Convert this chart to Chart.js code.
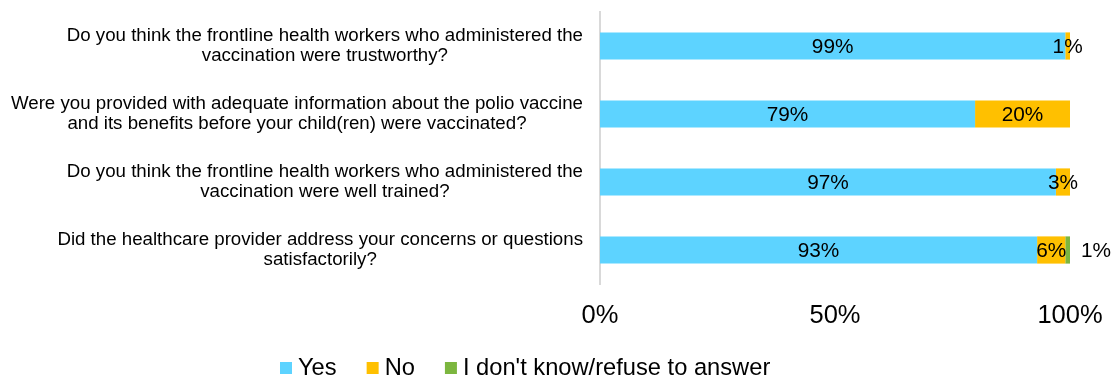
<!DOCTYPE html>
<html>
<head>
<meta charset="utf-8">
<script src="https://cdn.jsdelivr.net/npm/chart.js@4.4.1/dist/chart.umd.min.js"></script>
<style>
  html, body { margin: 0; padding: 0; background: #fff; }
  #wrap { width: 1112px; height: 376px; }
</style>
</head>
<body>
<div id="wrap"><canvas id="myChart" width="1112" height="376"></canvas></div>
<script>
// Preguntas (cada una en dos líneas)
const categories = [
    ['Do you think the frontline health workers who administered the', 'vaccination were trustworthy?'],
    ['Were you provided with adequate information about the polio vaccine', 'and its benefits before your child(ren) were vaccinated?'],
    ['Do you think the frontline health workers who administered the', 'vaccination were well trained?'],
    ['Did the healthcare provider address your concerns or questions', 'satisfactorily?']
];
const seriesNames = ['Yes', 'No', "I don't know/refuse to answer"];
const yesValues = [99, 79.8, 97, 93];
const noValues = [1, 20.2, 3, 6];
const dontKnowValues = [0, 0, 0, 1];
const xTicks = [0, 50, 100];

const colors = ['#5dd3ff', '#ffc000', '#7cb63f'];
const FONT = '"Liberation Sans", Arial, sans-serif';

// Etiquetas de categoría, etiquetas de datos y leyenda dibujadas a mano
const customDraw = {
    id: 'customDraw',
    afterDraw(chart) {
        const ctx = chart.ctx;
        const yScale = chart.scales.y;
        ctx.save();

        // etiquetas del eje Y: líneas centradas, bloque alineado a la derecha
        ctx.font = '18.7px ' + FONT;
        ctx.fillStyle = '#000';
        ctx.textBaseline = 'middle';
        ctx.textAlign = 'center';
        const lineH = 20.7;
        categories.forEach((lines, i) => {
            const yc = yScale.getPixelForValue(i);
            const widest = Math.max(...lines.map(l => ctx.measureText(l).width));
            const xc = chart.chartArea.left - 17 - widest / 2;
            lines.forEach((l, j) => {
                ctx.fillText(l, xc, yc + (j - (lines.length - 1) / 2) * lineH);
            });
        });

        // etiquetas de datos
        ctx.font = '20.8px ' + FONT;
        chart.data.datasets.forEach((ds, di) => {
            const meta = chart.getDatasetMeta(di);
            meta.data.forEach((bar, i) => {
                const v = ds.data[i];
                if (!v) return;
                const txt = Math.floor(v) + '%';
                if (di === 2) {
                    ctx.textAlign = 'left';
                    ctx.fillText(txt, bar.x + 11, bar.y + 1);
                } else {
                    ctx.textAlign = 'center';
                    ctx.fillText(txt, (bar.x + bar.base) / 2, bar.y + 1);
                }
            });
        });

        // leyenda
        ctx.font = '23.7px ' + FONT;
        ctx.textAlign = 'left';
        let x = 280;
        const boxY = 362;
        chart.data.datasets.forEach((ds) => {
            ctx.fillStyle = ds.backgroundColor;
            ctx.fillRect(x, boxY, 12, 12);
            ctx.fillStyle = '#000';
            ctx.fillText(ds.label, x + 18, boxY + 6);
            x += 12 + 6 + ctx.measureText(ds.label).width + 30;
        });

        ctx.restore();
    }
};

const ctx = document.getElementById('myChart').getContext('2d');
const chart = new Chart(ctx, {
    type: 'bar',
    data: {
        labels: categories,
        datasets: [
            { label: seriesNames[0], data: yesValues, backgroundColor: colors[0] },
            { label: seriesNames[1], data: noValues, backgroundColor: colors[1] },
            { label: seriesNames[2], data: dontKnowValues, backgroundColor: colors[2] }
        ]
    },
    options: {
        indexAxis: 'y',
        responsive: false,
        animation: false,
        layout: { padding: { left: 0, right: 42, top: 12, bottom: 0 } },
        datasets: {
            bar: { categoryPercentage: 1, barPercentage: 0.4, borderWidth: 0 }
        },
        plugins: {
            legend: { display: false },
            tooltip: { enabled: false }
        },
        scales: {
            x: {
                stacked: true,
                min: 0,
                max: 100,
                afterBuildTicks: (scale) => { scale.ticks = xTicks.map(v => ({ value: v })); },
                afterFit: (scale) => {
                    scale.height = 92;
                    scale.paddingLeft = 0;
                    scale.paddingRight = 0;
                },
                grid: { display: false, drawTicks: false },
                border: { display: false },
                ticks: {
                    padding: 17,
                    color: '#000',
                    font: { size: 25.5, family: FONT },
                    callback: (v) => v + '%'
                }
            },
            y: {
                stacked: true,
                afterFit: (scale) => { scale.width = 600; },
                grid: { display: false, drawTicks: false },
                border: { display: true, color: '#d9d9d9', width: 2 },
                ticks: { display: false }
            }
        }
    },
    plugins: [customDraw]
});
</script>
</body>
</html>
